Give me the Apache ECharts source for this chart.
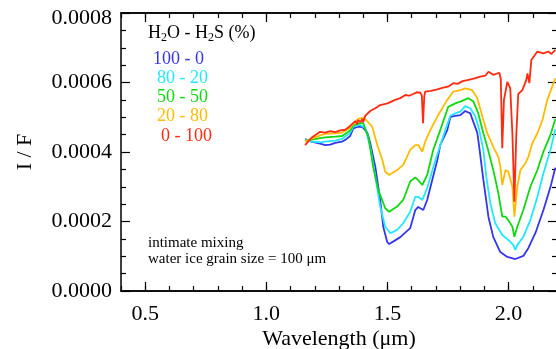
<!DOCTYPE html>
<html>
<head>
<meta charset="utf-8">
<script src="https://cdn.jsdelivr.net/npm/echarts@6/dist/echarts.min.js"></script>
<style>
html,body{margin:0;padding:0;background:#fff;}
#chart{width:556px;height:349px;}
</style>
</head>
<body>
<div id="chart"></div>
<script>
// ---- data (wavelength in µm, I/F) ----
const seriesNames = ['100 - 0', '80 - 20', '50 - 50', '20 - 80', '0 - 100'];
const seriesColors = ['#3535ee', '#22e8ff', '#11d811', '#ffbb00', '#ff2a10'];

const mix100_0 = [
  [1.160,4.37e-4],[1.185,4.30e-4],[1.222,4.24e-4],[1.243,4.20e-4],[1.264,4.21e-4],[1.284,4.26e-4],
  [1.313,4.30e-4],[1.326,4.35e-4],[1.346,4.46e-4],[1.359,4.68e-4],[1.379,4.73e-4],[1.396,4.72e-4],
  [1.408,4.63e-4],[1.417,4.55e-4],[1.429,4.26e-4],[1.450,3.57e-4],[1.470,2.62e-4],[1.483,1.84e-4],
  [1.499,1.41e-4],[1.507,1.35e-4],[1.530,1.45e-4],[1.553,1.55e-4],[1.594,1.81e-4],[1.615,2.33e-4],
  [1.627,2.42e-4],[1.648,2.33e-4],[1.664,2.62e-4],[1.706,3.77e-4],[1.718,4.20e-4],[1.747,4.63e-4],
  [1.760,5.01e-4],[1.780,5.04e-4],[1.801,5.06e-4],[1.821,5.18e-4],[1.842,5.11e-4],[1.855,4.86e-4],
  [1.871,4.55e-4],[1.879,4.14e-4],[1.896,3.20e-4],[1.917,2.13e-4],[1.937,1.55e-4],[1.966,1.12e-4],
  [1.995,0.98e-4],[2.028,0.92e-4],[2.061,1.01e-4],[2.082,1.24e-4],[2.111,1.67e-4],[2.144,2.33e-4],
  [2.173,2.99e-4],[2.193,3.55e-4]
];
const mix80_20 = [
  [1.160,4.35e-4],[1.185,4.30e-4],[1.222,4.28e-4],[1.243,4.30e-4],[1.284,4.33e-4],[1.313,4.38e-4],
  [1.346,4.55e-4],[1.359,4.73e-4],[1.388,4.78e-4],[1.408,4.69e-4],[1.429,4.15e-4],[1.450,3.29e-4],
  [1.470,2.43e-4],[1.491,1.85e-4],[1.512,1.66e-4],[1.540,1.76e-4],[1.565,1.95e-4],[1.594,2.28e-4],
  [1.615,2.71e-4],[1.627,2.71e-4],[1.644,2.62e-4],[1.664,2.96e-4],[1.698,3.77e-4],[1.739,4.63e-4],
  [1.760,5.05e-4],[1.780,5.11e-4],[1.801,5.16e-4],[1.821,5.32e-4],[1.842,5.26e-4],[1.863,5.02e-4],
  [1.879,4.63e-4],[1.896,4.06e-4],[1.908,3.29e-4],[1.925,2.52e-4],[1.945,1.95e-4],[1.974,1.61e-4],
  [1.999,1.47e-4],[2.020,1.32e-4],[2.028,1.18e-4],[2.036,1.32e-4],[2.061,1.56e-4],[2.090,2.04e-4],
  [2.119,2.71e-4],[2.144,3.39e-4],[2.173,4.06e-4],[2.193,4.65e-4]
];
const mix50_50 = [
  [1.160,4.33e-4],[1.185,4.35e-4],[1.222,4.40e-4],[1.243,4.42e-4],[1.284,4.44e-4],[1.313,4.46e-4],
  [1.346,4.62e-4],[1.359,4.77e-4],[1.388,4.83e-4],[1.400,4.83e-4],[1.421,4.44e-4],[1.441,3.58e-4],
  [1.462,2.91e-4],[1.491,2.38e-4],[1.507,2.28e-4],[1.540,2.43e-4],[1.565,2.62e-4],[1.594,3.15e-4],
  [1.615,3.27e-4],[1.627,3.19e-4],[1.644,3.05e-4],[1.664,3.34e-4],[1.689,4.06e-4],[1.718,4.63e-4],
  [1.751,5.30e-4],[1.780,5.40e-4],[1.801,5.45e-4],[1.834,5.55e-4],[1.855,5.45e-4],[1.875,5.11e-4],
  [1.896,4.54e-4],[1.912,4.15e-4],[1.937,3.48e-4],[1.958,2.81e-4],[1.974,2.14e-4],[1.987,2.14e-4],
  [1.999,2.04e-4],[2.016,1.85e-4],[2.024,1.56e-4],[2.036,1.85e-4],[2.061,2.33e-4],[2.090,3.00e-4],
  [2.119,3.48e-4],[2.144,4.01e-4],[2.173,4.49e-4],[2.193,4.95e-4]
];
const mix20_80 = [
  [1.160,4.30e-4],[1.185,4.38e-4],[1.222,4.48e-4],[1.243,4.52e-4],[1.284,4.54e-4],[1.313,4.56e-4],
  [1.346,4.70e-4],[1.359,4.81e-4],[1.379,4.95e-4],[1.396,4.98e-4],[1.408,4.95e-4],[1.437,4.73e-4],
  [1.458,4.20e-4],[1.479,3.77e-4],[1.491,3.43e-4],[1.507,3.34e-4],[1.540,3.48e-4],[1.565,3.63e-4],
  [1.594,4.06e-4],[1.615,4.20e-4],[1.627,4.20e-4],[1.644,4.01e-4],[1.656,4.30e-4],[1.677,4.63e-4],
  [1.706,5.02e-4],[1.747,5.50e-4],[1.772,5.74e-4],[1.801,5.78e-4],[1.821,5.83e-4],[1.850,5.78e-4],
  [1.871,5.55e-4],[1.892,5.02e-4],[1.912,4.54e-4],[1.937,4.15e-4],[1.958,3.86e-4],[1.966,3.58e-4],
  [1.974,3.05e-4],[1.987,3.48e-4],[1.999,3.43e-4],[2.016,3.00e-4],[2.024,2.14e-4],[2.036,3.00e-4],
  [2.049,3.48e-4],[2.069,3.67e-4],[2.082,3.86e-4],[2.098,4.25e-4],[2.119,4.54e-4],[2.140,4.92e-4],
  [2.160,5.50e-4],[2.193,6.12e-4]
];
const mix0_100 = [
  [1.160,4.20e-4],[1.185,4.40e-4],[1.222,4.58e-4],[1.243,4.56e-4],[1.264,4.60e-4],[1.285,4.57e-4],
  [1.305,4.62e-4],[1.326,4.64e-4],[1.346,4.75e-4],[1.367,4.89e-4],[1.375,4.80e-4],[1.379,4.92e-4],
  [1.388,4.86e-4],[1.396,4.95e-4],[1.400,4.86e-4],[1.408,5.04e-4],[1.429,5.18e-4],[1.450,5.26e-4],
  [1.470,5.35e-4],[1.500,5.40e-4],[1.532,5.50e-4],[1.553,5.55e-4],[1.574,5.64e-4],[1.590,5.62e-4],
  [1.607,5.67e-4],[1.620,5.72e-4],[1.636,5.71e-4],[1.642,5.62e-4],[1.647,4.83e-4],[1.652,5.60e-4],
  [1.656,5.74e-4],[1.680,5.76e-4],[1.706,5.80e-4],[1.730,5.85e-4],[1.750,5.88e-4],[1.772,5.98e-4],
  [1.790,5.96e-4],[1.810,6.04e-4],[1.830,6.07e-4],[1.860,6.12e-4],[1.883,6.17e-4],[1.905,6.20e-4],
  [1.917,6.31e-4],[1.937,6.22e-4],[1.962,6.28e-4],[1.968,6.10e-4],[1.974,4.11e-4],[1.981,5.50e-4],
  [1.995,6.02e-4],[2.007,5.83e-4],[2.016,4.50e-4],[2.024,2.57e-4],[2.032,4.50e-4],[2.040,5.67e-4],
  [2.057,5.78e-4],[2.073,6.07e-4],[2.078,6.26e-4],[2.086,5.98e-4],[2.094,6.65e-4],[2.119,6.89e-4],
  [2.144,6.84e-4],[2.164,6.89e-4],[2.177,6.82e-4],[2.193,6.94e-4]
];
const seriesData = [mix100_0, mix80_20, mix50_50, mix20_80, mix0_100];

const xMajorTicks = [0.5, 1.0, 1.5, 2.0];
const xMinorTicks = [0.4,0.5,0.6,0.7,0.8,0.9,1.0,1.1,1.2,1.3,1.4,1.5,1.6,1.7,1.8,1.9,2.0,2.1,2.2];
const legendTitle = 'H{sub|2}O - H{sub|2}S (%)';
const noteLines = ['intimate mixing', 'water ice grain size = 100 \u03bcm'];

// ---- chart ----
const FONT = '"Liberation Serif", "DejaVu Serif", serif';
const chart = echarts.init(document.getElementById('chart'), null, {renderer: 'canvas'});

function xAxisDef(pos, ticks, len, labels, extra) {
  return Object.assign({
    type: 'value', position: pos, min: 0.4, max: 2.2,
    axisLine: {show: true, onZero: false, lineStyle: {color: '#000', width: 1.5}},
    axisTick: {show: true, inside: true, length: len, customValues: ticks, lineStyle: {color: '#000', width: 1.2}},
    axisLabel: labels ? {show: true, customValues: xMajorTicks, formatter: v => v.toFixed(1),
      fontFamily: FONT, fontSize: 22, color: '#000', margin: 12} : {show: false},
    splitLine: {show: false}
  }, extra || {});
}
function yAxisDef(pos, labels, extra) {
  return Object.assign({
    type: 'value', position: pos, min: 0, max: 0.0008, interval: 0.0002,
    axisLine: {show: true, onZero: false, lineStyle: {color: '#000', width: 1.5}},
    axisTick: {show: true, inside: true, length: 9, lineStyle: {color: '#000', width: 1.2}},
    minorTick: {show: true, splitNumber: 4, length: 5, lineStyle: {color: '#000', width: 1.2}},
    axisLabel: labels ? {show: true,
      formatter: v => v >= 0.00079 ? '{top|' + v.toFixed(4) + '}' : v.toFixed(4),
      rich: {top: {fontFamily: FONT, fontSize: 22, color: '#000', padding: [10, 0, 0, 0]}},
      fontFamily: FONT, fontSize: 22, color: '#000', margin: 9} : {show: false},
    splitLine: {show: false}, minorSplitLine: {show: false}
  }, extra || {});
}

const option = {
  backgroundColor: '#fff',
  animation: false,
  grid: {left: 121, top: 13, width: 436, height: 278, containLabel: false, outerBoundsMode: 'none'},
  xAxis: [
    xAxisDef('bottom', xMajorTicks, 9, true, {
      name: 'Wavelength (\u03bcm)', nameLocation: 'middle', nameGap: 48, nameMoveOverlap: false,
      nameTextStyle: {fontFamily: FONT, fontSize: 22, color: '#000', verticalAlign: 'middle'}
    }),
    xAxisDef('bottom', xMinorTicks, 5, false),
    xAxisDef('top', xMajorTicks, 9, false),
    xAxisDef('top', xMinorTicks, 5, false)
  ],
  yAxis: [
    yAxisDef('left', true, {
      name: 'I / F', nameLocation: 'middle', nameGap: 96, nameRotate: 90, nameMoveOverlap: false,
      nameTextStyle: {fontFamily: FONT, fontSize: 22, color: '#000', verticalAlign: 'middle'}
    }),
    yAxisDef('right', false)
  ],
  series: seriesData.map((d, i) => ({
    name: seriesNames[i], type: 'line', data: d, xAxisIndex: 0, yAxisIndex: 0,
    showSymbol: false, symbol: 'none', smooth: false, z: 2 + i,
    lineStyle: {color: seriesColors[i], width: 1.8}
  })),
  graphic: [
    {type: 'text', left: 148, top: 24, style: {text: legendTitle, fontFamily: FONT, fontSize: 18, fill: '#000',
      rich: {sub: {fontFamily: FONT, fontSize: 12, padding: [9, 0, 0, 0], fill: '#000'}}}},
    ...seriesNames.map((n, i) => ({
      type: 'text', left: [153, 157, 157, 157, 161][i], top: [50, 69, 88, 107, 127][i],
      style: {text: n, fontFamily: FONT, fontSize: 18, fill: seriesColors[i]}
    })),
    ...noteLines.map((t, i) => ({
      type: 'text', left: 148, top: 236 + i * 16,
      style: {text: t, fontFamily: FONT, fontSize: 15, fill: '#000'}
    }))
  ]
};
chart.setOption(option);
</script>
</body>
</html>
